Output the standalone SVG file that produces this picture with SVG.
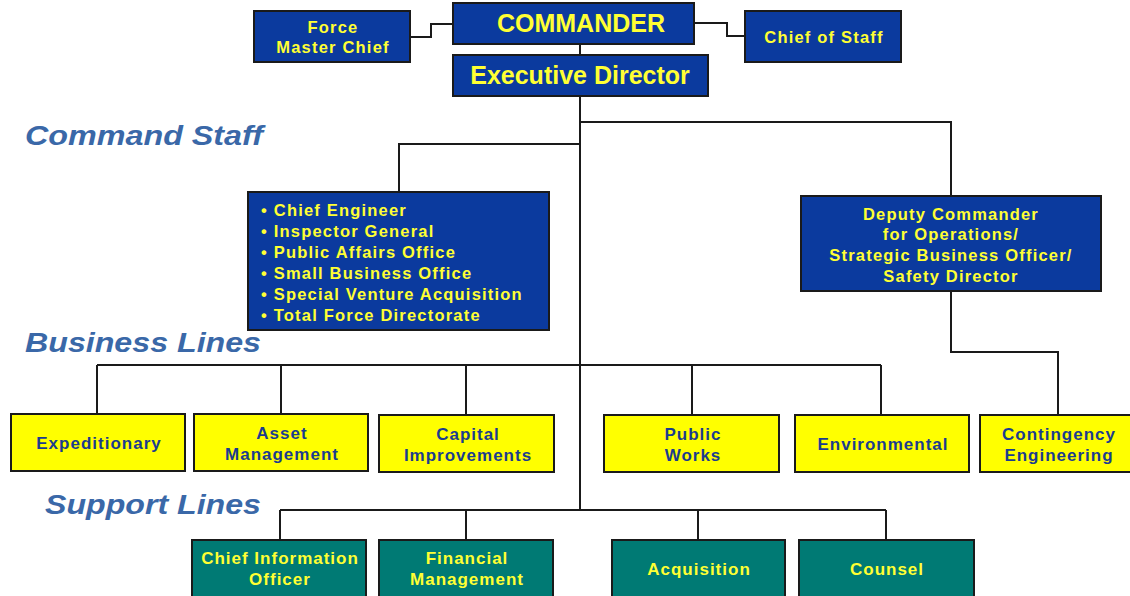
<svg xmlns="http://www.w3.org/2000/svg" width="1130" height="596" viewBox="0 0 1130 596">
  <style>
    text { font-family: "Liberation Sans", Arial, sans-serif; font-weight: bold; }
    .blue { fill: #0B3A9E; stroke: #1a1a1a; stroke-width: 2; }
    .yel { fill: #FFFF00; stroke: #1a1a1a; stroke-width: 2; }
    .teal { fill: #007A74; stroke: #1a1a1a; stroke-width: 2; }
    .ty { fill: #FFFF33; text-anchor: middle; }
    .sm { font-size: 16.5px; letter-spacing: 1.2px; }
    .tb { fill: #1B3C8E; text-anchor: middle; font-size: 17px; letter-spacing: 1px; }
    .tt { fill: #FFFF33; text-anchor: middle; font-size: 17px; letter-spacing: 1px; }
    .sec { fill: #3A68A8; font-style: italic; font-size: 28px; }
    .wire { fill: none; stroke: #1a1a1a; stroke-width: 2; }
  </style>

  <!-- section headings -->
  <text class="sec" x="25" y="145" textLength="238" lengthAdjust="spacingAndGlyphs">Command Staff</text>
  <text class="sec" x="25" y="352" textLength="236" lengthAdjust="spacingAndGlyphs">Business Lines</text>
  <text class="sec" x="45" y="514" textLength="216" lengthAdjust="spacingAndGlyphs">Support Lines</text>

  <!-- connectors -->
  <g id="connectors">
    <polyline class="wire" points="410,37 431,37 431,24 453,24"/>
    <polyline class="wire" points="694,23 727,23 727,36 745,36"/>
    <line class="wire" x1="580" y1="44" x2="580" y2="55"/>
    <line class="wire" x1="580" y1="96" x2="580" y2="510"/>
    <polyline class="wire" points="580,122 951,122 951,196"/>
    <polyline class="wire" points="580,144 399,144 399,192"/>
    <polyline class="wire" points="951,291 951,352 1058,352 1058,415"/>
    <!-- business line bus -->
    <line class="wire" x1="97" y1="365" x2="881" y2="365"/>
    <line class="wire" x1="97" y1="365" x2="97" y2="414"/>
    <line class="wire" x1="281" y1="365" x2="281" y2="414"/>
    <line class="wire" x1="466" y1="365" x2="466" y2="415"/>
    <line class="wire" x1="692" y1="365" x2="692" y2="415"/>
    <line class="wire" x1="881" y1="365" x2="881" y2="415"/>
    <!-- support line bus -->
    <line class="wire" x1="280" y1="510" x2="886" y2="510"/>
    <line class="wire" x1="280" y1="510" x2="280" y2="540"/>
    <line class="wire" x1="466" y1="510" x2="466" y2="540"/>
    <line class="wire" x1="698" y1="510" x2="698" y2="540"/>
    <line class="wire" x1="886" y1="510" x2="886" y2="540"/>
  </g>

  <!-- leadership -->
  <g id="commander">
    <rect class="blue" x="453" y="3" width="241" height="41"/>
    <text class="ty" x="581" y="32" font-size="25">COMMANDER</text>
  </g>
  <g id="force-master-chief">
    <rect class="blue" x="254" y="11" width="156" height="51"/>
    <text class="ty sm" x="333" y="33">Force</text>
    <text class="ty sm" x="333" y="53">Master Chief</text>
  </g>
  <g id="chief-of-staff">
    <rect class="blue" x="745" y="11" width="156" height="51"/>
    <text class="ty sm" x="824" y="43">Chief of Staff</text>
  </g>
  <g id="executive-director">
    <rect class="blue" x="453" y="55" width="255" height="41"/>
    <text class="ty" x="580" y="84" font-size="25">Executive Director</text>
  </g>

  <!-- command staff -->
  <g id="command-staff">
    <rect class="blue" x="248" y="192" width="301" height="138"/>
    <g fill="#FFFF33" class="sm">
      <text x="261" y="216">• Chief Engineer</text>
      <text x="261" y="237">• Inspector General</text>
      <text x="261" y="258">• Public Affairs Office</text>
      <text x="261" y="279">• Small Business Office</text>
      <text x="261" y="300">• Special Venture Acquisition</text>
      <text x="261" y="321">• Total Force Directorate</text>
    </g>
  </g>
  <g id="deputy-commander">
    <rect class="blue" x="801" y="196" width="300" height="95"/>
    <text class="ty sm" x="951" y="220">Deputy Commander</text>
    <text class="ty sm" x="951" y="240">for Operations/</text>
    <text class="ty sm" x="951" y="261">Strategic Business Officer/</text>
    <text class="ty sm" x="951" y="282">Safety Director</text>
  </g>

  <!-- business lines -->
  <g id="expeditionary">
    <rect class="yel" x="11" y="414" width="174" height="57"/>
    <text class="tb" x="99" y="449">Expeditionary</text>
  </g>
  <g id="asset-management">
    <rect class="yel" x="194" y="414" width="174" height="57"/>
    <text class="tb" x="282" y="439">Asset</text>
    <text class="tb" x="282" y="460">Management</text>
  </g>
  <g id="capital-improvements">
    <rect class="yel" x="379" y="415" width="175" height="57"/>
    <text class="tb" x="468" y="440">Capital</text>
    <text class="tb" x="468" y="461">Improvements</text>
  </g>
  <g id="public-works">
    <rect class="yel" x="604" y="415" width="175" height="57"/>
    <text class="tb" x="693" y="440">Public</text>
    <text class="tb" x="693" y="461">Works</text>
  </g>
  <g id="environmental">
    <rect class="yel" x="795" y="415" width="174" height="57"/>
    <text class="tb" x="883" y="450">Environmental</text>
  </g>
  <g id="contingency-engineering">
    <rect class="yel" x="980" y="415" width="156" height="57"/>
    <text class="tb" x="1059" y="440">Contingency</text>
    <text class="tb" x="1059" y="461">Engineering</text>
  </g>

  <!-- support lines -->
  <g id="chief-information-officer">
    <rect class="teal" x="192" y="540" width="174" height="60"/>
    <text class="tt" x="280" y="564">Chief Information</text>
    <text class="tt" x="280" y="585">Officer</text>
  </g>
  <g id="financial-management">
    <rect class="teal" x="379" y="540" width="174" height="60"/>
    <text class="tt" x="467" y="564">Financial</text>
    <text class="tt" x="467" y="585">Management</text>
  </g>
  <g id="acquisition">
    <rect class="teal" x="612" y="540" width="173" height="60"/>
    <text class="tt" x="699" y="575">Acquisition</text>
  </g>
  <g id="counsel">
    <rect class="teal" x="799" y="540" width="175" height="60"/>
    <text class="tt" x="887" y="575">Counsel</text>
  </g>
</svg>
